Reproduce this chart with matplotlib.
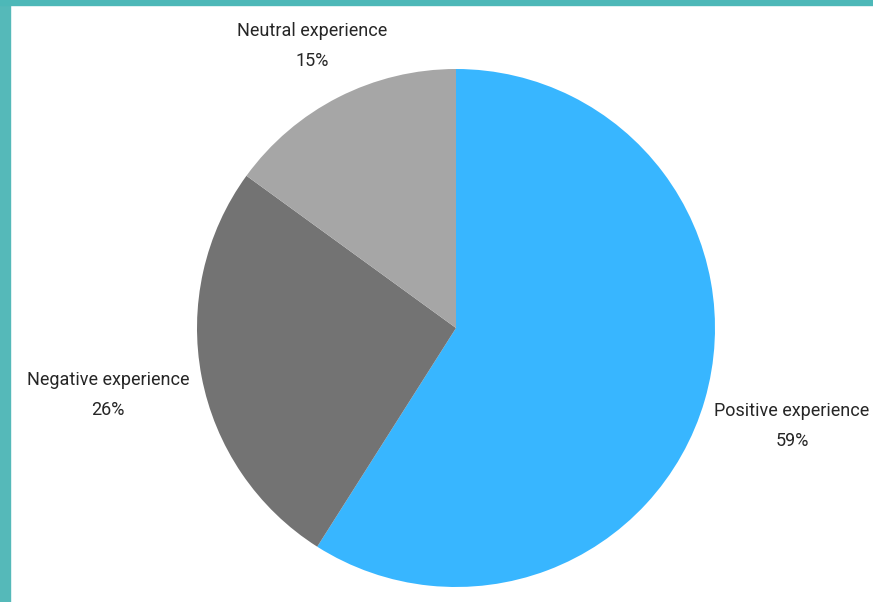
import matplotlib.pyplot as plt
from matplotlib.patches import Rectangle

categories = ['Positive experience', 'Negative experience', 'Neutral experience']
shares = [59, 26, 15]
colors = ['#38b6ff', '#737373', '#a6a6a6']

# label anchor points in pixel space (x, y from bottom)
label_pos = [(792, 176), (108, 207), (312, 556)]

fig = plt.figure(figsize=(8.73, 6.02), dpi=100)
ax = fig.add_axes([0, 0, 1, 1])

ax.pie(shares, colors=colors, startangle=90, counterclock=False,
       center=(456, 274), radius=259, frame=True,
       wedgeprops=dict(linewidth=0))
ax.set_xlim(0, 873)
ax.set_ylim(0, 602)
ax.set_aspect('equal')
ax.axis('off')

for cat, val, (x, y) in zip(categories, shares, label_pos):
    ax.text(x, y, f'{cat}\n{val}%', ha='center', va='center',
            fontsize=13, family='Roboto', color='#262626', linespacing=1.8)

# teal frame on left and top
fig.patches.append(Rectangle((0, 0), 10 / 873, 1, transform=fig.transFigure,
                             color='#55b9b9', zorder=10))
fig.patches.append(Rectangle((0, 1 - 5 / 602), 1, 5 / 602, transform=fig.transFigure,
                             color='#4db8b8', zorder=10))

fig.savefig('out.png', dpi=100)
